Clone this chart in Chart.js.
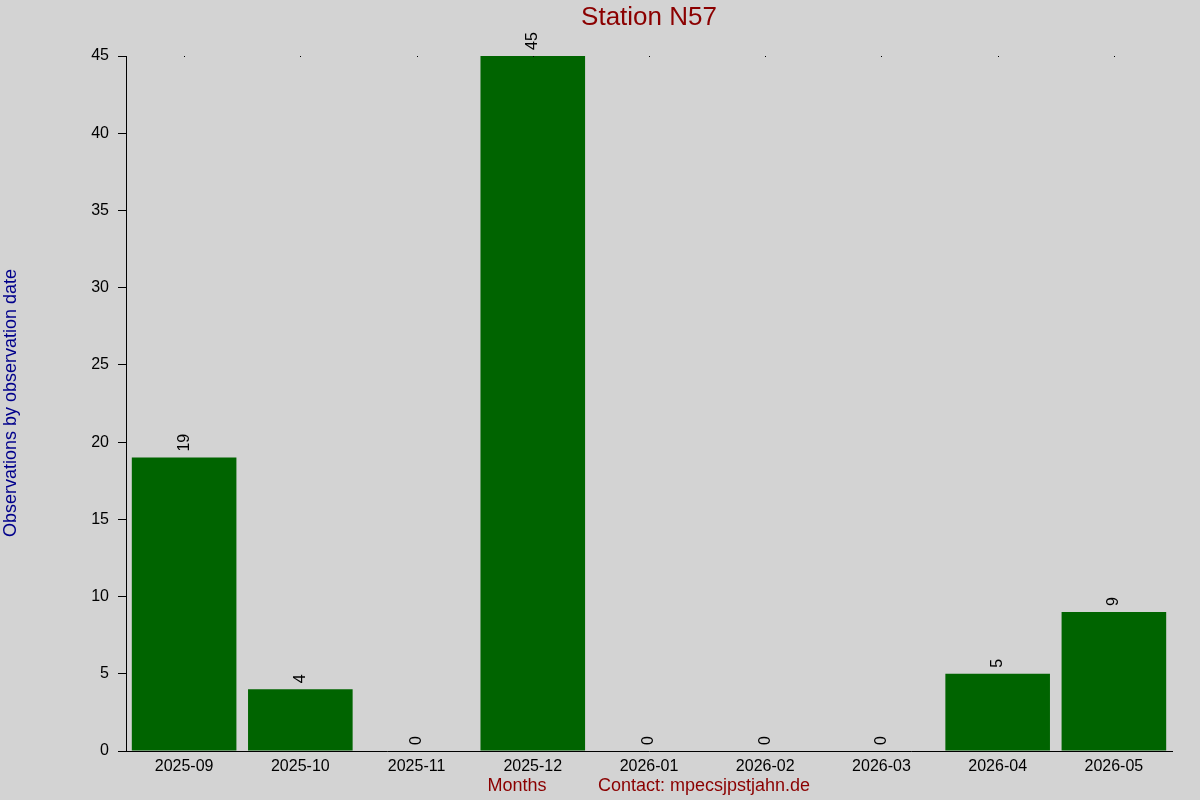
<!DOCTYPE html>
<html>
<head>
<meta charset="utf-8">
<script src="https://cdn.jsdelivr.net/npm/chart.js@4.4.1/dist/chart.umd.min.js"></script>
<style>
  html, body { margin: 0; padding: 0; background: #d3d3d3; }
  #wrap { width: 1200px; height: 800px; }
</style>
</head>
<body>
<div id="wrap"><canvas id="stationChart" width="1200" height="800"></canvas></div>
<script>
const months = ["2025-09", "2025-10", "2025-11", "2025-12", "2026-01", "2026-02", "2026-03", "2026-04", "2026-05"];
const observations = [19, 4, 0, 45, 0, 0, 0, 5, 9];
const yTicks = [0, 5, 10, 15, 20, 25, 30, 35, 40, 45];

const FONT = "'Liberation Sans', Arial, sans-serif";

// titles, value labels and the little dots at the top of the frame
const decorPlugin = {
  id: "decor",
  afterDatasetsDraw(chart) {
    const ctx = chart.ctx;
    const area = chart.chartArea;
    const xScale = chart.scales.x;
    const meta = chart.getDatasetMeta(0);

    ctx.save();
    // value labels, rotated
    ctx.fillStyle = "#000";
    ctx.font = "16px " + FONT;
    ctx.textAlign = "left";
    ctx.textBaseline = "middle";
    meta.data.forEach((bar, i) => {
      ctx.save();
      ctx.translate(bar.x, bar.y - 6);
      ctx.rotate(-Math.PI / 2);
      ctx.fillText(String(observations[i]), 0, 0);
      ctx.restore();
    });

    // tiny tick dots on the top edge
    ctx.fillStyle = "#000";
    months.forEach((m, i) => {
      const x = Math.round(xScale.getPixelForValue(i));
      ctx.fillRect(x, area.top, 1, 1);
    });

    // title
    ctx.fillStyle = "#8b0000";
    ctx.font = "26px " + FONT;
    ctx.textAlign = "center";
    ctx.textBaseline = "middle";
    ctx.fillText("Station N57", 649, 18);

    // x axis title + contact
    ctx.font = "18px " + FONT;
    ctx.fillText("Months", 517, 786);
    ctx.fillText("Contact: mpecsjpstjahn.de", 704, 786);

    // y axis title
    ctx.fillStyle = "#00008b";
    ctx.save();
    ctx.translate(11, 403);
    ctx.rotate(-Math.PI / 2);
    ctx.fillText("Observations by observation date", 0, 0);
    ctx.restore();

    ctx.restore();
  }
};

new Chart(document.getElementById("stationChart"), {
  type: "bar",
  data: {
    labels: months,
    datasets: [{
      data: observations,
      backgroundColor: "#006400",
      borderWidth: 0,
      inflateAmount: 0,
      barPercentage: 0.9,
      categoryPercentage: 1.0
    }]
  },
  options: {
    responsive: false,
    animation: false,
    devicePixelRatio: 1,
    layout: { padding: { top: 56, right: 28, left: 0, bottom: 0 } },
    plugins: {
      legend: { display: false },
      tooltip: { enabled: false }
    },
    scales: {
      x: {
        afterFit: scale => { scale.height = 49; },
        grid: { display: false, drawTicks: false },
        border: { color: "#000", width: 1 },
        ticks: {
          color: "#000",
          padding: 6,
          maxRotation: 0,
          font: { family: FONT, size: 16 }
        }
      },
      y: {
        min: 0,
        max: 45,
        afterFit: scale => { scale.width = 126; },
        afterBuildTicks: scale => { scale.ticks = yTicks.map(v => ({ value: v })); },
        grid: { drawOnChartArea: false, tickLength: 8, color: "#000" },
        border: { color: "#000", width: 1 },
        ticks: {
          color: "#000",
          padding: 9,
          font: { family: FONT, size: 16 }
        }
      }
    }
  },
  plugins: [decorPlugin]
});
</script>
</body>
</html>
